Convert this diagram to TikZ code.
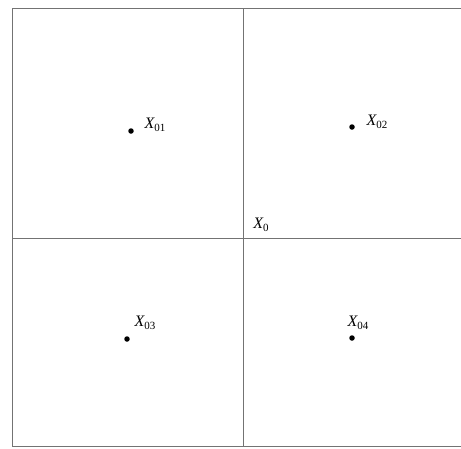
\documentclass[tikz,border=0pt]{standalone}
\usepackage{fontspec}
\setmainfont{Liberation Serif}
\newcommand{\xlab}[1]{\textit{X}\kern-0.5pt\raisebox{-2.5pt}{\fontsize{11}{13}\selectfont #1}}
\begin{document}
\begin{tikzpicture}[x=1pt,y=-1pt,
  frame/.style={draw=black!55,line width=0.9pt},
  pt/.style={circle,fill=black,inner sep=0pt,minimum size=5.5pt},
  lab/.style={inner sep=0pt,font=\fontsize{16}{18}\selectfont}]
\useasboundingbox (0,0) rectangle (461,448);
\begin{scope}
\clip (0,0) rectangle (461,448);
\coordinate (tl) at (12,8);
\coordinate (bl) at (12,446);
\coordinate (tr) at (470,8);
\coordinate (br) at (470,446);
\coordinate (vt) at (243,8);
\coordinate (vb) at (243,446);
\coordinate (hl) at (12,238);
\coordinate (hr) at (470,238);
\draw[frame] (tr) -- (tl) -- (bl) -- (br);
\draw[frame] (vt) -- (vb);
\draw[frame] (hl) -- (hr);
\end{scope}
\node[pt] (p1) at (131,131) {};
\node[pt] (p2) at (352,127) {};
\node[pt] (p3) at (127,339) {};
\node[pt] (p4) at (352,338) {};
\node[lab] (l1) at (155,125) {\xlab{01}};
\node[lab] (l2) at (377,122) {\xlab{02}};
\node[lab] (l0) at (261,225) {\xlab{0}};
\node[lab] (l3) at (145,323) {\xlab{03}};
\node[lab] (l4) at (358,323) {\xlab{04}};
\end{tikzpicture}
\end{document}
